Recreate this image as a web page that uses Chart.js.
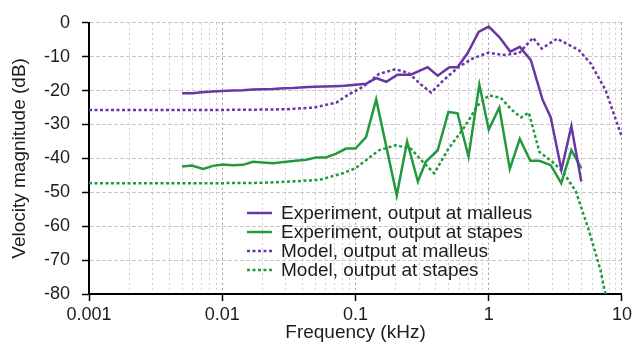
<!DOCTYPE html>
<html>
<head>
<meta charset="utf-8">
<script src="https://cdn.jsdelivr.net/npm/chart.js@4.4.1/dist/chart.umd.min.js"></script>
<style>
  html, body { margin: 0; padding: 0; background: #fff; }
  #wrap { width: 635px; height: 344px; }
</style>
</head>
<body>
<div id="wrap"><canvas id="myChart" width="635" height="344"></canvas></div>
<script>
//! DATA
//* x tick labels (kHz, log axis)
const xTickLabels = ['0.001', '0.01', '0.1', '1', '10'];
//* y range (dB)
const yMin = -80;
const yMax = 0;
const yStep = 10;

//* Experiment, output at malleus
const expMalleusFreq = [0.005, 0.006, 0.007, 0.0085, 0.01, 0.012, 0.0143, 0.017, 0.02, 0.024, 0.029, 0.034, 0.041, 0.049, 0.058, 0.07, 0.083, 0.1, 0.12, 0.143, 0.17, 0.207, 0.26, 0.348, 0.414, 0.506, 0.583, 0.693, 0.84, 1.0, 1.2, 1.45, 1.71, 2.07, 2.53, 2.92, 3.51, 4.17, 4.95];
const expMalleusDb = [-20.8, -20.8, -20.5, -20.3, -20.1, -20.0, -19.9, -19.7, -19.6, -19.5, -19.3, -19.2, -19.0, -18.9, -18.8, -18.7, -18.6, -18.3, -18.0, -16.3, -17.4, -15.3, -15.3, -13.1, -15.6, -13.1, -13.1, -9.0, -2.7, -1.1, -4.2, -8.5, -7.1, -11.0, -22.6, -27.9, -43.4, -30.5, -46.8];

//* Experiment, output at stapes
const expStapesFreq = [0.005, 0.0059, 0.0072, 0.0085, 0.0101, 0.012, 0.0143, 0.017, 0.024, 0.034, 0.0428, 0.0506, 0.06, 0.0717, 0.085, 0.1, 0.12, 0.143, 0.204, 0.244, 0.294, 0.337, 0.414, 0.498, 0.583, 0.705, 0.85, 1.0, 1.2, 1.44, 1.71, 2.05, 2.4, 2.92, 3.5, 4.17, 4.95];
const expStapesDb = [-42.4, -42.1, -43.1, -42.2, -41.8, -42.0, -41.9, -41.0, -41.4, -40.8, -40.4, -39.7, -39.7, -38.6, -37.1, -37.1, -33.7, -22.6, -50.9, -35.0, -46.8, -41.0, -37.6, -26.3, -26.7, -39.5, -18.2, -31.5, -25.0, -43.1, -34.2, -40.7, -40.7, -42.0, -47.3, -37.6, -42.9];

//* Model, output at malleus
const modMalleusFreq = [0.001, 0.002, 0.005, 0.01, 0.02, 0.03, 0.049, 0.072, 0.09, 0.107, 0.12, 0.15, 0.2, 0.25, 0.31, 0.37, 0.45, 0.6, 0.76, 1.0, 1.27, 1.69, 2.15, 2.5, 3.25, 4.73, 5.8, 7.5, 9.7, 10];
const modMalleusDb = [-25.7, -25.7, -25.7, -25.7, -25.6, -25.5, -25.0, -23.5, -21.0, -19.5, -18.2, -15.1, -13.7, -14.8, -18.2, -20.6, -17.2, -12.9, -10.5, -8.8, -9.5, -9.0, -4.4, -7.6, -4.7, -8.0, -11.9, -19.7, -32.3, -33.5];

//* Model, output at stapes
const modStapesFreq = [0.001, 0.01, 0.02, 0.034, 0.054, 0.08, 0.1, 0.15, 0.2, 0.26, 0.32, 0.39, 0.5, 0.67, 0.82, 1.0, 1.23, 1.47, 1.75, 2.0, 2.4, 3.0, 3.6, 4.5, 5.65, 6.9, 7.5];
const modStapesDb = [-47.3, -47.3, -47.2, -46.8, -46.3, -44.4, -42.9, -37.6, -36.1, -37.1, -41.0, -44.4, -37.1, -30.3, -24.5, -21.4, -22.1, -25.5, -27.9, -26.5, -38.1, -41.0, -43.9, -49.7, -61.3, -73.0, -80.0];

const seriesLabels = [
    'Experiment, output at malleus',
    'Experiment, output at stapes',
    'Model, output at malleus',
    'Model, output at stapes'
];

//! HELPERS
const PURPLE = '#6936a6';
const GREEN = '#22993f';
const TEXT = '#1c1c1c';
const FONT = "'Liberation Sans', Arial, sans-serif";

function toPoints(xs, ys) {
    return xs.map((x, i) => ({ x: x, y: ys[i] }));
}

//* major (labelled) and minor tick values for the log axis
const majorValues = xTickLabels.map(s => parseFloat(s));
const xTickValues = [];
majorValues.forEach((d, i) => {
    xTickValues.push(d);
    if (i < majorValues.length - 1) {
        for (let k = 2; k <= 9; k++) xTickValues.push(Number((k * d).toPrecision(3)));
    }
});
function isMajor(v) {
    return majorValues.some(m => Math.abs(v - m) / m < 1e-6);
}

//! LEGEND DRAWN INSIDE THE PLOT
const innerLegend = {
    id: 'innerLegend',
    afterDraw(chart) {
        const ctx = chart.ctx;
        ctx.save();
        ctx.font = '19px ' + FONT;
        ctx.textBaseline = 'middle';
        ctx.fillStyle = TEXT;
        chart.data.datasets.forEach((ds, i) => {
            const y = 213 + i * 19;
            ctx.beginPath();
            ctx.strokeStyle = ds.borderColor;
            ctx.lineWidth = ds.borderWidth;
            ctx.setLineDash(ds.borderDash || []);
            ctx.moveTo(247, y);
            ctx.lineTo(272, y);
            ctx.stroke();
            ctx.setLineDash([]);
            ctx.fillText(ds.label, 281, y + 1);
        });
        ctx.restore();
    }
};

//! CHART CONFIG
const data = {
    datasets: [{
        label: seriesLabels[0],
        data: toPoints(expMalleusFreq, expMalleusDb),
        borderColor: PURPLE,
        borderWidth: 2.5
    },
    {
        label: seriesLabels[1],
        data: toPoints(expStapesFreq, expStapesDb),
        borderColor: GREEN,
        borderWidth: 2.5
    },
    {
        label: seriesLabels[2],
        data: toPoints(modMalleusFreq, modMalleusDb),
        borderColor: PURPLE,
        borderWidth: 2.5,
        borderDash: [3, 2.5]
    },
    {
        label: seriesLabels[3],
        data: toPoints(modStapesFreq, modStapesDb),
        borderColor: GREEN,
        borderWidth: 2.5,
        borderDash: [3, 2.5]
    }]
};

const config = {
    type: 'line',
    data,
    options: {
        responsive: false,
        animation: false,
        layout: { padding: { top: 19, right: 12, left: 0, bottom: 0 } },
        elements: {
            point: { radius: 0 },
            line: { tension: 0, fill: false }
        },
        plugins: {
            legend: { display: false },
            tooltip: { enabled: false }
        },
        scales: {
            x: {
                type: 'logarithmic',
                min: majorValues[0],
                max: majorValues[majorValues.length - 1],
                afterBuildTicks: scale => {
                    scale.ticks = xTickValues.map(v => ({ value: v, major: isMajor(v) }));
                },
                afterFit: scale => { scale.height = 50; },
                ticks: {
                    autoSkip: false,
                    maxRotation: 0,
                    padding: 3,
                    color: TEXT,
                    font: { family: FONT, size: 18 },
                    callback: function (value) {
                        const idx = majorValues.findIndex(m => Math.abs(value - m) / m < 1e-6);
                        return idx >= 0 ? xTickLabels[idx] : '';
                    }
                },
                grid: {
                    color: ctx => (ctx.tick && isMajor(ctx.tick.value)) ? '#9a9a9a' : '#cccccc',
                    lineWidth: 1,
                    tickLength: 7,
                    tickWidth: 1.5,
                    tickColor: ctx => (ctx.tick && isMajor(ctx.tick.value)) ? '#000' : 'rgba(0,0,0,0)',
                    tickBorderDash: []
                },
                border: { display: true, color: '#000', width: 2, dash: [2, 3] },
                title: {
                    display: true,
                    text: 'Frequency (kHz)',
                    color: TEXT,
                    padding: { top: 0, bottom: 0 },
                    font: { family: FONT, size: 19 }
                }
            },
            y: {
                min: yMin,
                max: yMax,
                afterFit: scale => { scale.width = 89; },
                ticks: {
                    stepSize: yStep,
                    padding: 12,
                    color: TEXT,
                    font: { family: FONT, size: 18 }
                },
                grid: {
                    color: '#c8c8c8',
                    lineWidth: 1,
                    tickLength: 7,
                    tickWidth: 1.5,
                    tickColor: '#000',
                    tickBorderDash: []
                },
                border: { display: true, color: '#000', width: 2, dash: [4, 2] },
                title: {
                    display: true,
                    text: 'Velocity magnitude (dB)',
                    color: TEXT,
                    padding: { top: 8, bottom: 0 },
                    font: { family: FONT, size: 19 }
                }
            }
        }
    },
    plugins: [innerLegend]
};

//! CREATE CHART
const myChart = new Chart(document.getElementById('myChart'), config);
</script>
</body>
</html>
